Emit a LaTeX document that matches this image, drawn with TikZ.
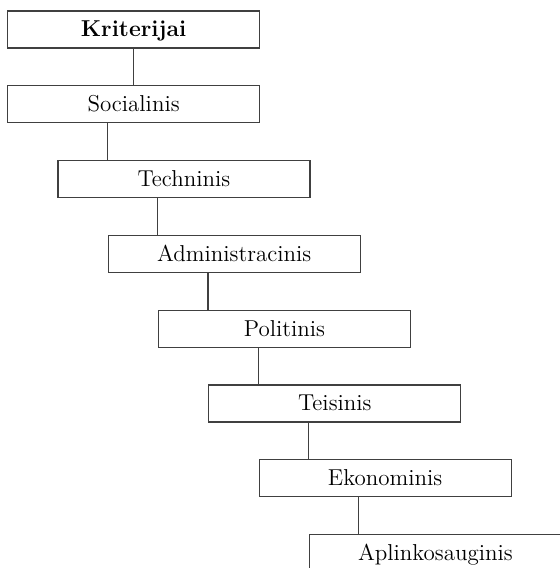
\documentclass[tikz,border=0pt]{standalone}
\usepackage{tikz}
\usetikzlibrary{positioning}

\begin{document}
\begin{tikzpicture} [crit/.style = {draw = black!75, line width = .6pt, minimum width = 126pt, minimum height = 18.5pt, inner sep = 0pt, text height = 8.5pt, text depth = 1.1pt, font = \fontsize{11.5}{14}\selectfont},
link/.style = {draw = black!75, line width = .6pt}]
\useasboundingbox (0,0) rectangle (279.5pt,-284pt);
\node[crit, anchor = north west] (krit) at (3.5pt,-5.2pt) {\bfseries Kriterijai};
\node[crit, below right = 18.3pt and 0pt of krit.south west] (soc) {Socialinis};
\node[crit, below right = 18.3pt and 25.15pt of soc.south west] (tech) {Techninis};
\node[crit, below right = 18.3pt and 25.15pt of tech.south west] (adm) {Administracinis};
\node[crit, below right = 18.3pt and 25.15pt of adm.south west] (pol) {Politinis};
\node[crit, below right = 18.3pt and 25.15pt of pol.south west] (teis) {Teisinis};
\node[crit, below right = 18.3pt and 25.15pt of teis.south west] (eko) {Ekonominis};
\node[crit, below right = 18.3pt and 25.15pt of eko.south west] (apl) {Aplinkosauginis};
\draw [link] (krit.south) -- (soc.north);
\draw [link] ([xshift = 25pt]tech.north west) -- ([xshift = 25pt]tech.north west |- soc.south);
\draw [link] ([xshift = 25pt]adm.north west) -- ([xshift = 25pt]adm.north west |- tech.south);
\draw [link] ([xshift = 25pt]pol.north west) -- ([xshift = 25pt]pol.north west |- adm.south);
\draw [link] ([xshift = 25pt]teis.north west) -- ([xshift = 25pt]teis.north west |- pol.south);
\draw [link] ([xshift = 25pt]eko.north west) -- ([xshift = 25pt]eko.north west |- teis.south);
\draw [link] ([xshift = 25pt]apl.north west) -- ([xshift = 25pt]apl.north west |- eko.south);
\end{tikzpicture}
\end{document}
